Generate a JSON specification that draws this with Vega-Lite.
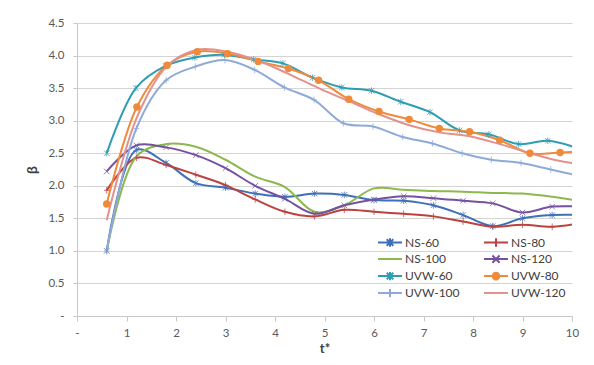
{
  "$schema": "https://vega.github.io/schema/vega-lite/v6.json",
  "autosize": "none",
  "width": 495,
  "height": 293,
  "padding": {"left": 77, "top": 23, "right": 22, "bottom": 49},
  "background": "white",
  "config": {
    "view": {"stroke": null},
    "font": "Lato",
    "axis": {"labelFont": "Lato", "labelFontSize": 11.5, "labelColor": "#595959", "titleFont": "Lato", "titleColor": "#404040", "domainColor": "#C8C8C8", "tickColor": "#C8C8C8", "gridColor": "#D4D4D4"}
  },
  "data": {"values": [
    {"s":"NS-60","x":0.6,"y":1.0},{"s":"NS-60","x":1.2,"y":2.55},{"s":"NS-60","x":1.8,"y":2.35},{"s":"NS-60","x":2.4,"y":2.04},{"s":"NS-60","x":3.0,"y":1.97},{"s":"NS-60","x":3.6,"y":1.88},{"s":"NS-60","x":4.2,"y":1.83},{"s":"NS-60","x":4.8,"y":1.88},{"s":"NS-60","x":5.4,"y":1.86},{"s":"NS-60","x":6.0,"y":1.78},{"s":"NS-60","x":6.6,"y":1.77},{"s":"NS-60","x":7.2,"y":1.70},{"s":"NS-60","x":7.8,"y":1.55},{"s":"NS-60","x":8.4,"y":1.38},{"s":"NS-60","x":9.0,"y":1.50},{"s":"NS-60","x":9.6,"y":1.55},{"s":"NS-60","x":10.2,"y":1.55},
    {"s":"NS-80","x":0.6,"y":1.93},{"s":"NS-80","x":1.2,"y":2.43},{"s":"NS-80","x":1.8,"y":2.32},{"s":"NS-80","x":2.4,"y":2.17},{"s":"NS-80","x":3.0,"y":2.01},{"s":"NS-80","x":3.6,"y":1.79},{"s":"NS-80","x":4.2,"y":1.60},{"s":"NS-80","x":4.8,"y":1.53},{"s":"NS-80","x":5.4,"y":1.63},{"s":"NS-80","x":6.0,"y":1.60},{"s":"NS-80","x":6.6,"y":1.57},{"s":"NS-80","x":7.2,"y":1.53},{"s":"NS-80","x":7.8,"y":1.45},{"s":"NS-80","x":8.4,"y":1.37},{"s":"NS-80","x":9.0,"y":1.40},{"s":"NS-80","x":9.6,"y":1.37},{"s":"NS-80","x":10.2,"y":1.43},
    {"s":"NS-100","x":0.6,"y":1.0},{"s":"NS-100","x":1.2,"y":2.45},{"s":"NS-100","x":1.8,"y":2.64},{"s":"NS-100","x":2.4,"y":2.60},{"s":"NS-100","x":3.0,"y":2.40},{"s":"NS-100","x":3.6,"y":2.14},{"s":"NS-100","x":4.2,"y":1.98},{"s":"NS-100","x":4.8,"y":1.60},{"s":"NS-100","x":5.4,"y":1.70},{"s":"NS-100","x":6.0,"y":1.96},{"s":"NS-100","x":6.6,"y":1.94},{"s":"NS-100","x":7.2,"y":1.92},{"s":"NS-100","x":7.8,"y":1.91},{"s":"NS-100","x":8.4,"y":1.89},{"s":"NS-100","x":9.0,"y":1.88},{"s":"NS-100","x":9.6,"y":1.83},{"s":"NS-100","x":10.2,"y":1.76},
    {"s":"NS-120","x":0.6,"y":2.22},{"s":"NS-120","x":1.2,"y":2.62},{"s":"NS-120","x":1.8,"y":2.59},{"s":"NS-120","x":2.4,"y":2.47},{"s":"NS-120","x":3.0,"y":2.27},{"s":"NS-120","x":3.6,"y":2.00},{"s":"NS-120","x":4.2,"y":1.80},{"s":"NS-120","x":4.8,"y":1.57},{"s":"NS-120","x":5.4,"y":1.70},{"s":"NS-120","x":6.0,"y":1.79},{"s":"NS-120","x":6.6,"y":1.84},{"s":"NS-120","x":7.2,"y":1.81},{"s":"NS-120","x":7.8,"y":1.77},{"s":"NS-120","x":8.4,"y":1.73},{"s":"NS-120","x":9.0,"y":1.59},{"s":"NS-120","x":9.6,"y":1.68},{"s":"NS-120","x":10.2,"y":1.68},
    {"s":"UVW-60","x":0.6,"y":2.50},{"s":"UVW-60","x":1.19,"y":3.50},{"s":"UVW-60","x":1.79,"y":3.84},{"s":"UVW-60","x":2.38,"y":3.97},{"s":"UVW-60","x":2.98,"y":4.01},{"s":"UVW-60","x":3.57,"y":3.94},{"s":"UVW-60","x":4.16,"y":3.88},{"s":"UVW-60","x":4.76,"y":3.66},{"s":"UVW-60","x":5.35,"y":3.51},{"s":"UVW-60","x":5.95,"y":3.46},{"s":"UVW-60","x":6.54,"y":3.29},{"s":"UVW-60","x":7.13,"y":3.13},{"s":"UVW-60","x":7.73,"y":2.85},{"s":"UVW-60","x":8.32,"y":2.79},{"s":"UVW-60","x":8.92,"y":2.64},{"s":"UVW-60","x":9.51,"y":2.69},{"s":"UVW-60","x":10.1,"y":2.58},
    {"s":"UVW-80","x":0.6,"y":1.72},{"s":"UVW-80","x":1.21,"y":3.21},{"s":"UVW-80","x":1.82,"y":3.85},{"s":"UVW-80","x":2.43,"y":4.06},{"s":"UVW-80","x":3.04,"y":4.03},{"s":"UVW-80","x":3.66,"y":3.91},{"s":"UVW-80","x":4.27,"y":3.80},{"s":"UVW-80","x":4.88,"y":3.62},{"s":"UVW-80","x":5.49,"y":3.33},{"s":"UVW-80","x":6.1,"y":3.14},{"s":"UVW-80","x":6.71,"y":3.02},{"s":"UVW-80","x":7.32,"y":2.88},{"s":"UVW-80","x":7.93,"y":2.83},{"s":"UVW-80","x":8.54,"y":2.70},{"s":"UVW-80","x":9.15,"y":2.50},{"s":"UVW-80","x":9.76,"y":2.51},{"s":"UVW-80","x":10.37,"y":2.53},
    {"s":"UVW-100","x":0.6,"y":1.0},{"s":"UVW-100","x":1.2,"y":2.88},{"s":"UVW-100","x":1.8,"y":3.62},{"s":"UVW-100","x":2.39,"y":3.83},{"s":"UVW-100","x":2.99,"y":3.93},{"s":"UVW-100","x":3.59,"y":3.78},{"s":"UVW-100","x":4.19,"y":3.51},{"s":"UVW-100","x":4.79,"y":3.32},{"s":"UVW-100","x":5.38,"y":2.96},{"s":"UVW-100","x":5.98,"y":2.91},{"s":"UVW-100","x":6.58,"y":2.75},{"s":"UVW-100","x":7.18,"y":2.65},{"s":"UVW-100","x":7.78,"y":2.50},{"s":"UVW-100","x":8.37,"y":2.40},{"s":"UVW-100","x":8.97,"y":2.35},{"s":"UVW-100","x":9.57,"y":2.25},{"s":"UVW-100","x":10.17,"y":2.15},
    {"s":"UVW-120","x":0.6,"y":1.47},{"s":"UVW-120","x":1.21,"y":3.05},{"s":"UVW-120","x":1.82,"y":3.84},{"s":"UVW-120","x":2.43,"y":4.09},{"s":"UVW-120","x":3.04,"y":4.06},{"s":"UVW-120","x":3.66,"y":3.92},{"s":"UVW-120","x":4.27,"y":3.72},{"s":"UVW-120","x":4.88,"y":3.50},{"s":"UVW-120","x":5.49,"y":3.30},{"s":"UVW-120","x":6.1,"y":3.10},{"s":"UVW-120","x":6.71,"y":2.93},{"s":"UVW-120","x":7.32,"y":2.82},{"s":"UVW-120","x":7.93,"y":2.76},{"s":"UVW-120","x":8.54,"y":2.64},{"s":"UVW-120","x":9.15,"y":2.50},{"s":"UVW-120","x":9.76,"y":2.38},{"s":"UVW-120","x":10.37,"y":2.31}
  ]},
  "encoding": {
    "x": {"field": "x", "type": "quantitative", "scale": {"domain": [0, 10], "nice": false, "zero": false},
      "axis": {"title": "t*", "titleFontSize": 13, "titleFontWeight": "bold", "titlePadding": 4, "values": [0,1,2,3,4,5,6,7,8,9,10], "grid": false, "tickSize": 5, "labelPadding": 6, "labelExpr": "datum.value == 0 ? '-' : datum.label", "labelFlush": false}},
    "y": {"field": "y", "type": "quantitative", "scale": {"domain": [0, 4.5], "nice": false},
      "axis": {"title": "β", "titleFontSize": 14, "titleFontWeight": "bold", "titlePadding": 8, "values": [0,0.5,1,1.5,2,2.5,3,3.5,4,4.5], "grid": true, "tickSize": 4, "labelPadding": 9, "labelExpr": "datum.value == 0 ? '-' : format(datum.value, '.1f')"}}
  },
  "layer": [
    {
      "mark": {"type": "line", "interpolate": "catmull-rom", "strokeWidth": 2, "clip": true},
      "encoding": {
        "color": {"field": "s", "type": "nominal", "legend": null,
          "scale": {"domain": ["NS-60","NS-80","NS-100","NS-120","UVW-60","UVW-80","UVW-100","UVW-120"],
                    "range": ["#3F6FB6","#BC423F","#8DB84E","#7552A0","#2E9CB2","#EF8A3B","#8FAAD9","#E3918D"]}}
      }
    },
    {
      "transform": [{"filter": {"field": "s", "oneOf": ["NS-60","NS-80","NS-120","UVW-60","UVW-100"]}}],
      "mark": {"type": "point", "filled": false, "strokeWidth": 1, "size": 30, "opacity": 0.75, "clip": true},
      "encoding": {
        "color": {"field": "s", "type": "nominal", "legend": null,
          "scale": {"domain": ["NS-60","NS-80","NS-100","NS-120","UVW-60","UVW-80","UVW-100","UVW-120"],
                    "range": ["#3F6FB6","#BC423F","#8DB84E","#7552A0","#2E9CB2","#EF8A3B","#8FAAD9","#E3918D"]}},
        "shape": {"field": "s", "type": "nominal", "legend": null,
          "scale": {"domain": ["NS-60","NS-80","NS-120","UVW-60","UVW-100"],
                    "range": ["M-1,-1L1,1M-1,1L1,-1M0,-1.2V1.2","M0,-1.2V1.2M-1,0H1","M-1,-1L1,1M-1,1L1,-1","M-1,-1L1,1M-1,1L1,-1M0,-1.2V1.2","M0,-1.2V1.2M-1,0H1"]}}
      }
    },
    {
      "transform": [{"filter": {"field": "s", "equal": "UVW-80"}}],
      "mark": {"type": "point", "shape": "circle", "filled": true, "size": 55, "opacity": 1, "color": "#EF8A3B", "clip": true}
    },
    {
      "transform": [{"filter": "datum.x < -100"}],
      "mark": {"type": "point", "filled": false, "strokeWidth": 2, "size": 144},
      "encoding": {
        "color": {"field": "s", "type": "nominal",
          "scale": {"domain": ["NS-60","NS-100","UVW-60","UVW-100","NS-80","NS-120","UVW-80","UVW-120"],
                    "range": ["#3F6FB6","#8DB84E","#2E9CB2","#8FAAD9","#BC423F","#7552A0","#EF8A3B","#E3918D"]},
          "legend": {"orient": "none", "legendX": 300, "legendY": 211, "columns": 2, "columnPadding": 23, "rowPadding": 0, "clipHeight": 16.2, "symbolSize": 144, "symbolStrokeWidth": 2, "labelOffset": 14, "labelFontSize": 12, "labelFont": "Lato", "labelColor": "#404040", "title": null, "padding": 0, "symbolOpacity": 1}},
        "shape": {"field": "s", "type": "nominal",
          "scale": {"domain": ["NS-60","NS-100","UVW-60","UVW-100","NS-80","NS-120","UVW-80","UVW-120"],
                    "range": [
                      "M-1,0H3M0.45,-0.55L1.55,0.55M0.45,0.55L1.55,-0.55M1,-0.7V0.7",
                      "M-1,0H3",
                      "M-1,0H3M0.45,-0.55L1.55,0.55M0.45,0.55L1.55,-0.55M1,-0.7V0.7",
                      "M-1,0H3M1,-0.7V0.7",
                      "M-1,0H3M1,-0.7V0.7",
                      "M-1,0H3M0.4,-0.6L1.6,0.6M0.4,0.6L1.6,-0.6",
                      "M-1,0H3M1.55,0A0.55,0.55 0 1,1 0.45,0A0.55,0.55 0 1,1 1.55,0M1.3,0A0.3,0.3 0 1,1 0.7,0A0.3,0.3 0 1,1 1.3,0M1.1,0A0.1,0.1 0 1,1 0.9,0A0.1,0.1 0 1,1 1.1,0",
                      "M-1,0H3"]},
          "legend": {"orient": "none", "legendX": 300, "legendY": 211, "columns": 2, "columnPadding": 23, "rowPadding": 0, "clipHeight": 16.2, "symbolSize": 144, "symbolStrokeWidth": 2, "labelOffset": 14, "labelFontSize": 12, "labelFont": "Lato", "labelColor": "#404040", "title": null, "padding": 0, "symbolOpacity": 1}}
      }
    }
  ],
  "resolve": {"scale": {"color": "independent", "shape": "independent"}}
}
